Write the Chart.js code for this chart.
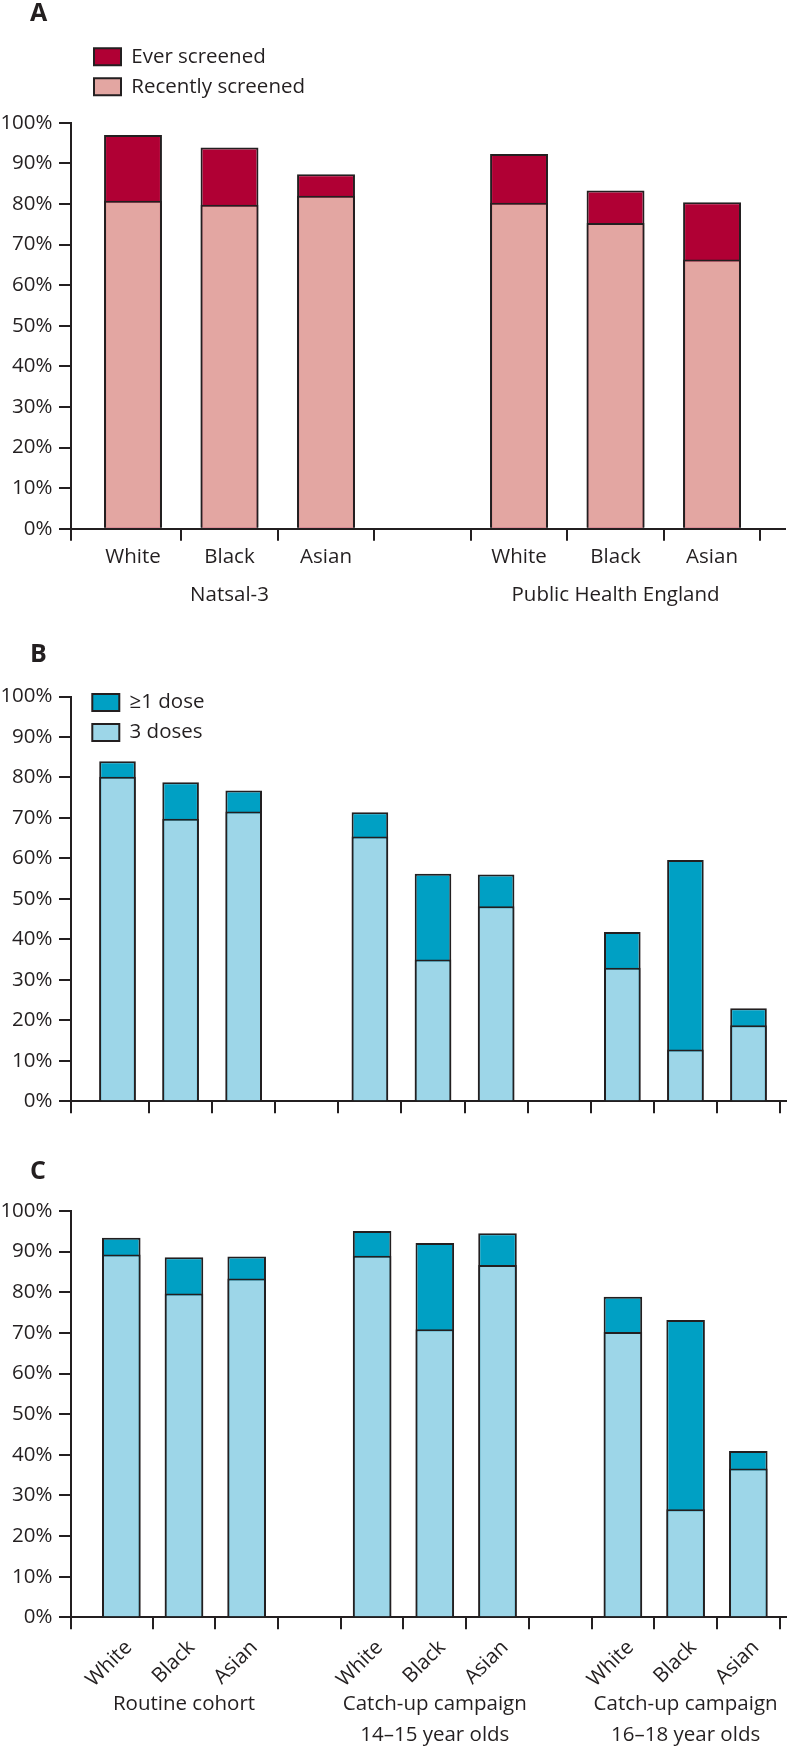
<!DOCTYPE html>
<html>
<head>
<meta charset="utf-8">
<script src="https://cdn.jsdelivr.net/npm/chart.js@4.4.1/dist/chart.umd.min.js"></script>
<style>
  html, body { margin: 0; padding: 0; background: #ffffff; }
  canvas { display: block; }
</style>
</head>
<body>
<canvas id="chartA" width="787" height="630"></canvas>
<canvas id="chartB" width="787" height="510"></canvas>
<canvas id="chartC" width="787" height="608"></canvas>
<script>
// ---------------- data ----------------
const ethnicities = ['White', 'Black', 'Asian'];
const yTickValues = [0, 10, 20, 30, 40, 50, 60, 70, 80, 90, 100];

// Panel A: chlamydia screening
const groupsA = ['Natsal-3', 'Public Health England'];
const everScreened     = [97.0, 93.9, 87.3, 92.3, 83.3, 80.4];
const recentlyScreened = [80.8, 79.8, 82.0, 80.3, 75.3, 66.3];

// Panels B and C: HPV vaccination
const groupsBC = ['Routine cohort', ['Catch-up campaign', '14\u201315 year olds'], ['Catch-up campaign', '16\u201318 year olds']];
const atLeastOneDoseB = [84.0, 78.8, 76.8, 71.4, 56.2, 56.0, 41.8, 59.6, 23.0];
const threeDosesB     = [80.2, 69.8, 71.6, 65.4, 35.0, 48.2, 33.0, 12.8, 18.8];
const atLeastOneDoseC = [93.4, 88.6, 88.8, 95.1, 92.1, 94.5, 78.9, 73.2, 40.9];
const threeDosesC     = [89.3, 79.7, 83.4, 89.0, 70.9, 86.7, 70.2, 26.6, 36.6];

// ---------------- styling ----------------
const INK = '#231f20';
const FS = 20.5;
Chart.defaults.font.family = "'Open Sans', 'Noto Sans', 'DejaVu Sans', sans-serif";
Chart.defaults.font.size = FS;
Chart.defaults.color = INK;

// places the panel letter and the legend block where the original figure has them
const placeBlocks = {
  id: 'placeBlocks',
  afterLayout(chart, args, opts) {
    if (!opts) return;
    const tb = chart.titleBlock;
    if (tb && opts.titleLeft !== undefined) {
      tb.left = opts.titleLeft;
    }
    const lg = chart.legend;
    if (lg && opts.legendLeft !== undefined) {
      const w = lg.width, h = chart.chartArea.bottom - opts.legendTop;
      lg.left = opts.legendLeft; lg.right = lg.left + w;
      lg.top = opts.legendTop; lg.bottom = lg.top + h;
    }
  }
};

// slot index of the i-th bar: groups of 3 separated by one empty slot
function slotIndex(i) {
  const n = ethnicities.length;
  return Math.floor(i / n) * (n + 1) + (i % n);
}

function makeChart(canvasId, cfg) {
  const n = ethnicities.length;
  const nSlots = cfg.groups.length * (n + 1) - 1;
  const barX = cfg.top.map((_, i) => slotIndex(i));
  const boundaries = [];
  for (let k = 0; k < nSlots; k++) boundaries.push(k + 0.5);
  const groupCenters = cfg.groups.map((_, g) => g * (n + 1) + (n - 1) / 2);

  const scales = {
    y: {
      type: 'linear', position: 'left', min: 0, max: 100,
      afterBuildTicks: s => { s.ticks = yTickValues.map(v => ({ value: v })); },
      ticks: { callback: v => v + '%', padding: 6.5, autoSkip: false, color: INK, font: { size: FS } },
      grid: { display: true, drawOnChartArea: false, drawTicks: true, tickLength: 12, color: INK, lineWidth: 2, tickColor: INK, tickWidth: 2 },
      border: { display: true, color: INK, width: 2 },
      afterFit: s => { s.width = 71; }
    },
    x: {
      type: 'linear', position: 'bottom', weight: 0, offset: false,
      min: cfg.min, max: cfg.max,
      afterBuildTicks: s => { s.ticks = [cfg.min].concat(boundaries).map(v => ({ value: v })); },
      ticks: { display: false },
      grid: { display: true, offset: false, drawOnChartArea: false, drawTicks: true, tickLength: 12, color: INK, lineWidth: 2, tickColor: INK, tickWidth: 2 },
      border: { display: true, color: INK, width: 2 },
      afterFit: s => { s.height = 12; s.paddingLeft = 0; s.paddingRight = 0; }
    }
  };
  if (cfg.labels) {
    scales.xl = {
      type: 'linear', position: 'bottom', weight: 1, offset: false,
      min: cfg.min, max: cfg.max,
      afterBuildTicks: s => { s.ticks = barX.map(v => ({ value: v })); },
      ticks: {
        callback: (v, i) => ethnicities[i % n], autoSkip: false,
        minRotation: cfg.labels.rotation, maxRotation: cfg.labels.rotation,
        padding: cfg.labels.padding, labelOffset: cfg.labels.offset || 0,
        color: INK, font: { size: FS }
      },
      grid: { display: false, drawTicks: false, offset: false },
      border: { display: false },
      afterFit: s => { s.height = cfg.labels.height; s.paddingLeft = 0; s.paddingRight = 0; }
    };
    scales.xg = {
      type: 'linear', position: 'bottom', weight: 2, offset: false,
      min: cfg.min, max: cfg.max,
      afterBuildTicks: s => { s.ticks = groupCenters.map(v => ({ value: v })); },
      ticks: {
        callback: (v, i) => cfg.groups[i], autoSkip: false, maxRotation: 0, minRotation: 0,
        padding: cfg.labels.groupPadding, color: INK, font: { size: FS, lineHeight: 1.5 }
      },
      grid: { display: false, drawTicks: false, offset: false },
      border: { display: false },
      afterFit: s => { s.height = cfg.labels.groupHeight; s.paddingLeft = 0; s.paddingRight = 0; }
    };
  }

  const common = {
    borderColor: INK, borderWidth: 2, grouped: false,
    barPercentage: cfg.barPct, categoryPercentage: 1,
    xAxisID: 'x', yAxisID: 'y'
  };

  return new Chart(document.getElementById(canvasId), {
    type: 'bar',
    data: {
      datasets: [
        Object.assign({ label: cfg.subLabel, backgroundColor: cfg.subColor,
          data: cfg.sub.map((v, i) => ({ x: barX[i], y: v })) }, common),
        Object.assign({ label: cfg.topLabel, backgroundColor: cfg.topColor,
          data: cfg.top.map((v, i) => ({ x: barX[i], y: v })) }, common)
      ]
    },
    options: {
      responsive: false,
      animation: false,
      devicePixelRatio: 1,
      layout: { padding: { left: 0, right: cfg.padRight, top: 0, bottom: cfg.padBottom } },
      scales: scales,
      plugins: {
        title: {
          display: true, text: cfg.letter, align: 'start', color: INK,
          font: { size: 25, weight: 'bold', lineHeight: 1.1 },
          padding: { top: cfg.titleTop, bottom: cfg.titleBottom }
        },
        legend: {
          display: cfg.showLegend, position: 'chartArea', align: 'start', fullSize: false, reverse: true,
          labels: { boxWidth: 27, boxHeight: 17, padding: 9.5, color: INK, font: { size: FS } }
        },
        placeBlocks: { titleLeft: 30, legendLeft: cfg.legendLeft, legendTop: cfg.legendTop },
        tooltip: { enabled: false }
      }
    },
    plugins: [placeBlocks]
  });
}

makeChart('chartA', {
  letter: 'A', groups: groupsA,
  top: everScreened, sub: recentlyScreened,
  topLabel: 'Ever screened', subLabel: 'Recently screened',
  topColor: '#b00034', subColor: '#e3a6a2',
  min: -0.6425, max: 6.756, barPct: 0.6,
  titleTop: 0, titleBottom: 95.2, padRight: 2, padBottom: 20,
  showLegend: true, legendLeft: 84.5, legendTop: 37.05,
  labels: { rotation: 0, padding: 4.3, height: 28.3, groupPadding: 11, groupHeight: 41 }
});

makeChart('chartB', {
  letter: 'B', groups: groupsBC,
  top: atLeastOneDoseB, sub: threeDosesB,
  topLabel: '\u22651 dose', subLabel: '3 doses',
  topColor: '#00a0c4', subColor: '#9dd6e8',
  min: -0.737, max: 10.594, barPct: 0.58,
  titleTop: 11.6, titleBottom: 27.4, padRight: 1, padBottom: 26.7,
  showLegend: true, legendLeft: 82.8, legendTop: 52.75,
  labels: null
});

makeChart('chartC', {
  letter: 'C', groups: groupsBC,
  top: atLeastOneDoseC, sub: threeDosesC,
  topLabel: '\u22651 dose', subLabel: '3 doses',
  topColor: '#00a0c4', subColor: '#9dd6e8',
  min: -0.802, max: 10.601, barPct: 0.615,
  titleTop: 18.2, titleBottom: 25.3, padRight: 1, padBottom: 0,
  showLegend: false,
  labels: { rotation: 45, padding: 6.2, offset: 7.5, height: 58, groupPadding: 1.7, groupHeight: 60.7 }
});
</script>
</body>
</html>
